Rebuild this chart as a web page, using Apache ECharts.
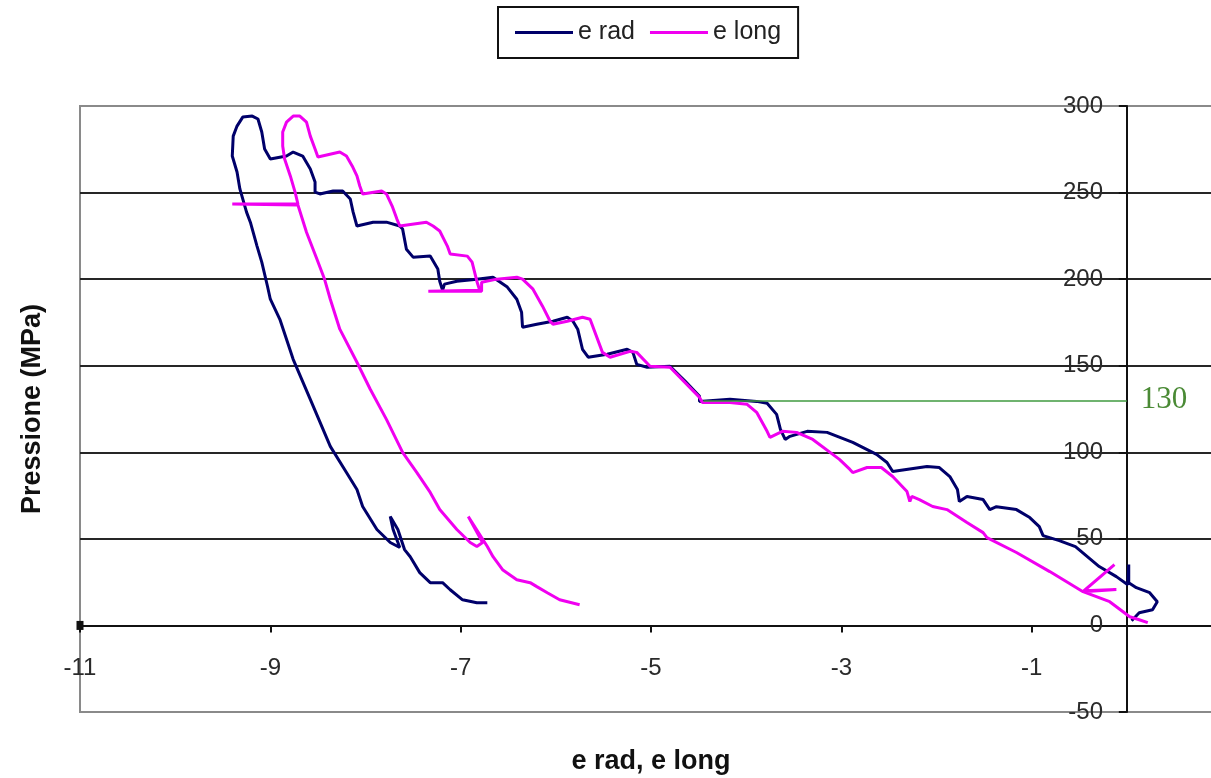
<!DOCTYPE html>
<html>
<head>
<meta charset="utf-8">
<title>Pressione vs e rad, e long</title>
<script src="https://cdn.jsdelivr.net/npm/echarts@6/dist/echarts.min.js"></script>
<style>
  html, body { margin: 0; padding: 0; background: #ffffff; }
  #chart { width: 1211px; height: 778px; }
</style>
</head>
<body>
<div id="chart"></div>
<script>
// Radial strain: stepped loading from the origin up to the peak
const eRadLoading = [
  [0.05, 2.7], [0.13, 7.3], [0.27, 9.1], [0.32, 13.7], [0.24, 18.9], [0.10, 21.8],
  [0.02, 24.7], [0.02, 35.2], [0.01, 23.5], [-0.11, 28.2], [-0.29, 34.0], [-0.54, 45.5],
  [-0.71, 49.0], [-0.88, 51.9], [-0.92, 57.1], [-1.02, 62.3], [-1.16, 66.9], [-1.37, 68.6],
  [-1.44, 66.9], [-1.51, 72.7], [-1.68, 74.5], [-1.76, 71.6], [-1.78, 78.5], [-1.86, 86.0],
  [-1.97, 91.2], [-2.10, 91.8], [-2.39, 89.5], [-2.46, 88.9], [-2.52, 94.1], [-2.63, 98.8],
  [-2.88, 105.7], [-3.15, 111.5], [-3.36, 112.1], [-3.54, 109.2], [-3.59, 107.4], [-3.64, 113.2],
  [-3.68, 121.9], [-3.78, 128.3], [-3.89, 129.4], [-4.17, 130.6], [-4.49, 129.4], [-4.49, 132.3],
  [-4.64, 141.0], [-4.80, 149.7], [-5.04, 149.1], [-5.15, 150.8], [-5.19, 157.7], [-5.25, 159.5],
  [-5.46, 156.6], [-5.66, 154.9], [-5.72, 159.5], [-5.77, 171.1], [-5.82, 175.7], [-5.88, 178.0],
  [-6.03, 175.7], [-6.20, 174.0], [-6.35, 172.2], [-6.36, 180.9], [-6.41, 188.4], [-6.51, 195.4],
  [-6.66, 201.1], [-6.83, 200.0], [-7.04, 198.8], [-7.17, 197.1], [-7.19, 193.6], [-7.22, 198.8],
  [-7.24, 205.8], [-7.32, 213.3], [-7.50, 212.7], [-7.57, 217.3], [-7.61, 228.9], [-7.64, 230.7],
  [-7.78, 232.9], [-7.92, 232.9], [-8.09, 230.7], [-8.13, 238.7], [-8.16, 246.3], [-8.24, 250.9],
  [-8.34, 250.9], [-8.48, 249.2], [-8.53, 250.3], [-8.53, 256.1], [-8.58, 263.6], [-8.66, 271.1],
  [-8.76, 273.4], [-8.83, 271.1], [-9.00, 269.4], [-9.06, 275.2], [-9.09, 285.0], [-9.13, 292.5],
  [-9.19, 294.2]
];

// Radial strain: unloading from the peak
const eRadUnloading = [
  [-9.29, 293.6], [-9.35, 288.4], [-9.39, 282.6], [-9.40, 271.1], [-9.35, 261.9], [-9.32, 252.1],
  [-9.25, 238.7], [-9.21, 232.9], [-9.14, 219.1], [-9.09, 209.8], [-9.03, 195.9], [-9.00, 188.4],
  [-8.90, 176.8], [-8.76, 153.7], [-8.58, 130.6], [-8.37, 103.4], [-8.20, 88.3], [-8.09, 78.5],
  [-8.03, 68.7], [-7.88, 55.4], [-7.74, 47.9], [-7.64, 45.0], [-7.71, 55.4], [-7.74, 62.9],
  [-7.66, 55.4], [-7.59, 43.8], [-7.53, 39.7], [-7.43, 30.5], [-7.32, 24.7], [-7.19, 24.7],
  [-7.11, 20.6], [-6.98, 14.8], [-6.83, 13.1], [-6.72, 13.1]
];

// Longitudinal strain: stepped loading from the origin up to the peak
const eLongLoading = [
  [0.22, 1.6], [0.13, 3.3], [0.03, 5.0], [-0.18, 13.7], [-0.46, 19.5], [-0.11, 20.7],
  [-0.45, 20.1], [-0.13, 35.1], [-0.46, 19.5], [-0.81, 31.1], [-1.16, 42.1], [-1.47, 50.7],
  [-1.51, 53.6], [-1.68, 59.4], [-1.89, 66.9], [-2.04, 68.7], [-2.18, 72.7], [-2.26, 74.5],
  [-2.28, 71.6], [-2.31, 77.3], [-2.46, 86.0], [-2.58, 91.2], [-2.73, 91.2], [-2.88, 88.3],
  [-2.91, 90.1], [-3.02, 95.9], [-3.30, 107.4], [-3.47, 111.5], [-3.62, 112.1], [-3.75, 108.6],
  [-3.78, 112.1], [-3.89, 123.1], [-3.99, 127.7], [-4.17, 128.8], [-4.46, 128.8], [-4.49, 131.7],
  [-4.80, 149.1], [-5.01, 149.7], [-5.15, 157.7], [-5.22, 158.3], [-5.43, 154.9], [-5.51, 157.7],
  [-5.64, 176.8], [-5.72, 178.0], [-5.88, 175.7], [-6.03, 174.0], [-6.06, 175.7], [-6.14, 184.4],
  [-6.24, 194.2], [-6.35, 200.0], [-6.41, 201.1], [-6.62, 200.0], [-6.78, 198.2], [-6.78, 193.0],
  [-7.34, 193.0], [-6.80, 193.6], [-6.83, 198.8], [-6.88, 209.8], [-6.93, 213.3], [-7.11, 214.5],
  [-7.14, 219.1], [-7.22, 227.8], [-7.29, 230.7], [-7.36, 232.9], [-7.64, 230.7], [-7.67, 234.7],
  [-7.72, 242.2], [-7.78, 249.2], [-7.83, 250.9], [-8.03, 249.2], [-8.06, 253.8], [-8.09, 259.6],
  [-8.14, 265.4], [-8.20, 271.1], [-8.27, 273.4], [-8.50, 270.5], [-8.53, 275.2], [-8.58, 282.6],
  [-8.62, 290.7], [-8.69, 294.2]
];

// Longitudinal strain: unloading from the peak
const eLongUnloading = [
  [-8.76, 294.2], [-8.83, 290.7], [-8.87, 285.0], [-8.87, 276.9], [-8.85, 269.4], [-8.79, 259.6],
  [-8.74, 250.3], [-8.71, 243.4], [-9.40, 243.4], [-8.71, 242.8], [-8.62, 227.1], [-8.51, 211.5],
  [-8.43, 199.9], [-8.37, 188.4], [-8.27, 171.1], [-8.09, 152.0], [-7.95, 136.4], [-7.78, 119.0],
  [-7.61, 99.9], [-7.46, 88.3], [-7.32, 76.8], [-7.22, 66.9], [-7.04, 55.4], [-6.90, 47.9],
  [-6.83, 45.6], [-6.77, 47.9], [-6.92, 62.9], [-6.72, 45.6], [-6.66, 39.7], [-6.56, 32.2],
  [-6.41, 26.4], [-6.27, 24.7], [-6.20, 22.4], [-6.09, 18.9], [-5.96, 14.8], [-5.75, 11.9]
];

// Reference pressure level and the strain where it is first reached
const refLevel = 130;
const refStart = -4.45;

// Axis ranges and tick steps
const xRange = { min: -11, max: 1, step: 2 };
const yRange = { min: -50, max: 300, step: 50 };

const seriesNames = ['e rad', 'e long'];
const seriesColors = ['#00006a', '#f000f0'];

const sans = '"Liberation Sans", Arial, sans-serif';

const chart = echarts.init(document.getElementById('chart'), null, { renderer: 'canvas' });

chart.setOption({
  animation: false,
  backgroundColor: '#ffffff',
  legend: {
    data: seriesNames,
    left: 498,
    top: 7,
    padding: [13, 17, 13, 17],
    itemGap: 15,
    itemWidth: 58,
    itemHeight: 3,
    icon: 'rect',
    borderColor: '#111111',
    borderWidth: 2,
    textStyle: { fontFamily: sans, fontSize: 25, color: '#222222' }
  },
  grid: {
    left: 80,
    top: 106,
    bottom: 66,
    right: -11,
    containLabel: false,
    outerBoundsMode: 'none',
    show: true,
    borderColor: '#8a8a8a',
    borderWidth: 2,
    backgroundColor: 'transparent'
  },
  xAxis: {
    type: 'value',
    min: xRange.min,
    max: xRange.max,
    interval: xRange.step,
    name: 'e rad, e long',
    nameLocation: 'middle',
    nameGap: 36,
    nameTextStyle: { fontFamily: sans, fontSize: 27, fontWeight: 'bold', color: '#111111' },
    axisLine: { onZero: true, lineStyle: { color: '#111111', width: 2 } },
    axisTick: { show: true, length: 7, lineStyle: { color: '#111111', width: 2 } },
    axisLabel: { inside: true, margin: 32, fontFamily: sans, fontSize: 24, color: '#2a2a2a' },
    splitLine: { show: false }
  },
  yAxis: {
    type: 'value',
    min: yRange.min,
    max: yRange.max,
    interval: yRange.step,
    name: 'Pressione (MPa)',
    nameLocation: 'middle',
    nameRotate: 90,
    nameGap: 34,
    nameTextStyle: { fontFamily: sans, fontSize: 27, fontWeight: 'bold', color: '#111111' },
    axisLine: { onZero: true, lineStyle: { color: '#111111', width: 2 } },
    axisTick: { show: true, length: 8, lineStyle: { color: '#111111', width: 2 } },
    axisLabel: { inside: true, align: 'right', margin: 1023, fontFamily: sans, fontSize: 24, color: '#2a2a2a' },
    splitLine: {
      show: true,
      showMinLine: false,
      showMaxLine: false,
      lineStyle: { color: '#262626', width: 2 }
    }
  },
  series: [
    {
      name: seriesNames[0],
      type: 'line',
      data: eRadLoading.concat(eRadUnloading),
      showSymbol: false,
      symbol: 'none',
      lineStyle: { color: seriesColors[0], width: 3 },
      itemStyle: { color: seriesColors[0] },
      markLine: {
        silent: true,
        symbol: 'none',
        lineStyle: { color: '#3f9a3f', width: 1.5, type: 'solid' },
        label: {
          show: true,
          position: 'end',
          distance: 14,
          formatter: String(refLevel),
          fontFamily: '"Liberation Serif", "Times New Roman", serif',
          fontSize: 31,
          color: '#4a8a35'
        },
        data: [[{ coord: [refStart, refLevel] }, { coord: [0, refLevel] }]]
      },
      markPoint: {
        silent: true,
        symbol: 'rect',
        symbolSize: [7, 9],
        itemStyle: { color: '#111111' },
        label: { show: false },
        data: [{ coord: [xRange.min, 0] }]
      }
    },
    {
      name: seriesNames[1],
      type: 'line',
      data: eLongLoading.concat(eLongUnloading),
      showSymbol: false,
      symbol: 'none',
      lineStyle: { color: seriesColors[1], width: 3 },
      itemStyle: { color: seriesColors[1] }
    }
  ]
});
</script>
</body>
</html>
